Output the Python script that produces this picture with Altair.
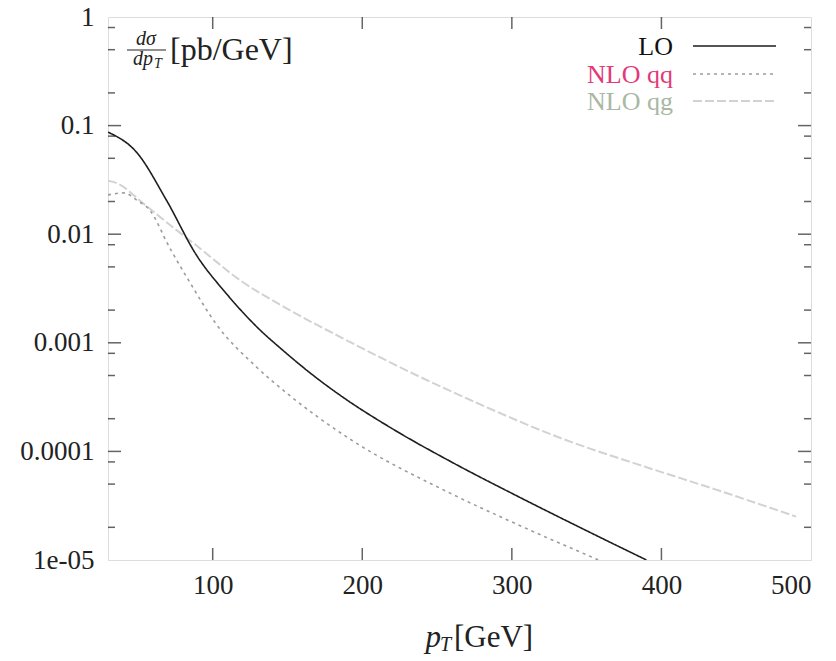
import altair as alt
import pandas as pd

# ---- data ----
lo_pt = [30, 49, 69, 89, 109, 130, 147, 170, 188, 220, 260, 302, 350, 390]
lo_val = [0.0871, 0.0570, 0.02065, 0.00646, 0.00285, 0.00138, 0.000851, 0.000468,
          0.000309, 0.000162, 7.94e-5, 3.98e-5, 1.86e-5, 1.0e-5]

qq_pt = [30, 41, 49, 58, 71, 85, 102, 129, 151, 191, 258, 300, 358]
qq_val = [0.023, 0.024, 0.0207, 0.0166, 0.0076, 0.00355, 0.00151, 0.000603,
          0.000331, 0.000132, 4.17e-5, 2.24e-5, 1.0e-5]

qg_pt = [30, 36, 53, 70, 87, 120, 149, 187, 220, 276, 333, 391, 436, 490]
qg_val = [0.031, 0.0295, 0.0195, 0.0126, 0.0083, 0.00363, 0.00209, 0.0011,
          0.000646, 0.000282, 0.000132, 7.08e-5, 4.47e-5, 2.51e-5]

series_names = ["LO", "NLO qq", "NLO qg"]
line_colors = ["#1e1e1e", "#9c9c9c", "#d2d2d2"]
label_colors = ["#111111", "#e23a78", "#a9b8a4"]

x_ticks = [100, 200, 300, 400, 500]
y_ticks = [1e-5, 1e-4, 1e-3, 1e-2, 1e-1, 1]
y_minor = [m * 10.0 ** k for k in range(-5, 0) for m in (2, 5, 8)]

W, H = 703, 543
FONT = "Liberation Serif, DejaVu Serif, serif"

rows = []
for name, pts, vals in zip(series_names, [lo_pt, qq_pt, qg_pt], [lo_val, qq_val, qg_val]):
    for p, v in zip(pts, vals):
        rows.append({"series": name, "pt": p, "val": v})
df = pd.DataFrame(rows)

xs = alt.Scale(domain=[30, 500], nice=False, zero=False)
ys = alt.Scale(type="log", domain=[1e-5, 1], nice=False)

xenc = alt.X("pt:Q", scale=xs, axis=alt.Axis(
    values=x_ticks, ticks=False, domain=False, grid=False, title=None,
    labelFont=FONT, labelFontSize=27, labelColor="#222", labelPadding=12))
yenc = alt.Y("val:Q", scale=ys, axis=alt.Axis(
    values=y_ticks, ticks=False, domain=False, grid=False, title=None,
    format="~g", labelExpr="datum.value < 5e-5 ? '1e-05' : datum.label",
    labelFont=FONT, labelFontSize=27, labelColor="#222", labelPadding=14))

dashes = [[1, 0], [3, 4], [9, 3]]
widths = [1.6, 1.6, 2.0]

def line(i):
    name = series_names[i]
    return alt.Chart(df[df.series == name]).mark_line(
        color=line_colors[i], strokeDash=dashes[i], strokeWidth=widths[i], clip=True,
        interpolate="monotone").encode(x=xenc, y=yenc)

lines = alt.layer(line(2), line(1), line(0))

# inside ticks (gnuplot style, mirrored on all sides)
xt = pd.DataFrame({"pt": x_ticks[:-1]})
yt = pd.DataFrame({"val": y_ticks[1:-1]})
ym = pd.DataFrame({"val": y_minor})
tc = "#222"
ticks = alt.layer(
    alt.Chart(xt).mark_tick(orient="vertical", size=12, thickness=1.5, color=tc).encode(
        x=alt.X("pt:Q", scale=xs), y=alt.value(H - 6)),
    alt.Chart(xt).mark_tick(orient="vertical", size=12, thickness=1.5, color=tc).encode(
        x=alt.X("pt:Q", scale=xs), y=alt.value(6)),
    alt.Chart(yt).mark_tick(orient="horizontal", size=13, thickness=1.5, color=tc).encode(
        y=alt.Y("val:Q", scale=ys), x=alt.value(6.5)),
    alt.Chart(yt).mark_tick(orient="horizontal", size=13, thickness=1.5, color=tc).encode(
        y=alt.Y("val:Q", scale=ys), x=alt.value(W - 6.5)),
    alt.Chart(ym).mark_tick(orient="horizontal", size=7, thickness=1.5, color=tc).encode(
        y=alt.Y("val:Q", scale=ys), x=alt.value(3.5)),
    alt.Chart(ym).mark_tick(orient="horizontal", size=7, thickness=1.5, color=tc).encode(
        y=alt.Y("val:Q", scale=ys), x=alt.value(W - 3.5)),
)

# legend (inside, top right)
leg_base = [38, 66, 93]
leg = []
for i, name in enumerate(series_names):
    yy = leg_base[i]
    leg.append(alt.Chart(pd.DataFrame({"t": [name]})).mark_text(
        font=FONT, fontSize=26, align="right", baseline="alphabetic",
        color=label_colors[i]).encode(text="t:N", x=alt.value(565), y=alt.value(yy)))
    leg.append(alt.Chart(pd.DataFrame({"t": [name]})).mark_rule(
        color=line_colors[i], strokeDash=dashes[i], strokeWidth=widths[i]).encode(
        x=alt.value(585), x2=alt.value(668), y=alt.value(yy - 9)))

def txt(s, x, y, size, style="normal", align="left", baseline="alphabetic"):
    return alt.Chart(pd.DataFrame({"t": [s]})).mark_text(
        font=FONT, fontSize=size, fontStyle=style, align=align, baseline=baseline,
        color="#222").encode(text="t:N", x=alt.value(x), y=alt.value(y))

# y title (fraction) inside plot, top-left
ytitle = alt.layer(
    txt("dσ", 38, 28, 20, "italic", "center"),
    alt.Chart(pd.DataFrame({"t": [0]})).mark_rule(color="#222", strokeWidth=1.2).encode(
        x=alt.value(19), x2=alt.value(58), y=alt.value(33)),
    txt("dp", 35, 48, 20, "italic", "center"),
    txt("T", 46, 51, 14, "italic", "left"),
    txt("[pb/GeV]", 62, 43, 32, "normal", "left"),
)

# x title below the plot
xtitle = alt.layer(
    txt("p", 333, 630, 31, "italic", "right"),
    txt("T", 332, 634, 20, "italic", "left"),
    txt("[GeV]", 346, 630, 31, "normal", "left"),
)

chart = alt.layer(lines, ticks, *leg, ytitle, xtitle).properties(
    width=W, height=H,
    autosize=alt.AutoSizeParams(type="none"),
    padding={"left": 108, "top": 17, "right": 25, "bottom": 101},
).configure_view(stroke="#222", strokeWidth=1.6).configure(background="white")

chart.save("out.html", embed_options={"renderer": "svg", "actions": False})
